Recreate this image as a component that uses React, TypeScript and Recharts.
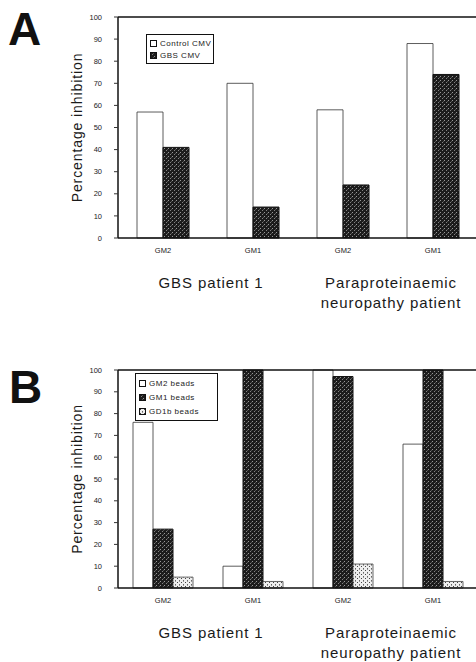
import {
  Bar,
  BarChart,
  Legend,
  ReferenceLine,
  XAxis,
  YAxis,
} from 'recharts';

// Ganglioside antigen on each plate, two per patient
const CATEGORIES = ['GM2', 'GM1', 'GM2', 'GM1'];
const PATIENTS = [
  'GBS patient 1',
  'GBS patient 1',
  'Paraproteinaemic neuropathy patient',
  'Paraproteinaemic neuropathy patient',
];
const Y_TICKS = [0, 10, 20, 30, 40, 50, 60, 70, 80, 90, 100];

// Panel A: CMV inhibition
const CONTROL_CMV = [57, 70, 58, 88];
const GBS_CMV = [41, 14, 24, 74];

// Panel B: bead inhibition
const GM2_BEADS = [76, 10, 100, 66];
const GM1_BEADS = [27, 100, 97, 100];
const GD1B_BEADS = [5, 3, 11, 3];

const dataA = CATEGORIES.map((c, i) => ({
  antigen: c,
  patient: PATIENTS[i],
  control: CONTROL_CMV[i],
  gbs: GBS_CMV[i],
}));

const dataB = CATEGORIES.map((c, i) => ({
  antigen: c,
  patient: PATIENTS[i],
  gm2: GM2_BEADS[i],
  gm1: GM1_BEADS[i],
  gd1b: GD1B_BEADS[i],
}));

const FONT = '"Liberation Sans", Arial, Helvetica, sans-serif';

const SWATCH: Record<string, string> = {
  white: '#ffffff',
  dark: 'url(#darkGrain)',
  light: 'url(#lightGrain)',
};

function Patterns() {
  return (
    <defs>
      <pattern id="darkGrain" width="4" height="4" patternUnits="userSpaceOnUse">
        <rect width="4" height="4" fill="#1c1c1c" />
        <rect x="0" y="0" width="1" height="1" fill="#fff" opacity="0.55" />
        <rect x="2" y="2" width="1" height="1" fill="#fff" opacity="0.45" />
        <rect x="3" y="1" width="1" height="1" fill="#888" opacity="0.5" />
      </pattern>
      <pattern id="lightGrain" width="4" height="4" patternUnits="userSpaceOnUse">
        <rect width="4" height="4" fill="#efefef" />
        <rect x="1" y="1" width="1" height="1" fill="#444" />
        <rect x="3" y="3" width="1" height="1" fill="#666" />
        <rect x="3" y="0" width="1" height="1" fill="#999" />
      </pattern>
    </defs>
  );
}

// Group label under each pair of antigens, centred between the two bands
function PatientTick(props: any) {
  const { x, y, payload } = props;
  if (payload.index % 2 !== 0) return null;
  const text: string = payload.value;
  const lines =
    text.length > 16
      ? [text.slice(0, text.indexOf(' ')), text.slice(text.indexOf(' ') + 1)]
      : [text];
  const cx = x + payload.offset + 3;
  return (
    <text
      x={cx}
      y={y + 22}
      textAnchor="middle"
      fontFamily={FONT}
      fontSize={15}
      letterSpacing={0.9}
      fill="#1a1a1a"
    >
      {lines.map((l, i) => (
        <tspan key={l} x={cx} dy={i === 0 ? 0 : 20}>
          {l}
        </tspan>
      ))}
    </text>
  );
}

function BoxLegend({ items, width, rowGap }: { items: { label: string; kind: string }[]; width: number; rowGap: number }) {
  return (
    <div
      style={{
        width,
        border: '1px solid #111',
        background: '#fff',
        padding: '2px 0 2px 3px',
        boxSizing: 'border-box',
        fontFamily: FONT,
        fontSize: 8,
        letterSpacing: 0.5,
        color: '#222',
        whiteSpace: 'nowrap',
        overflow: 'hidden',
      }}
    >
      {items.map((it) => (
        <div key={it.label} style={{ display: 'flex', alignItems: 'center', height: rowGap }}>
          <svg width={7} height={7} style={{ marginRight: 3, flexShrink: 0 }}>
            <Patterns />
            <rect x={0.5} y={0.5} width={6} height={6} fill={SWATCH[it.kind]} stroke="#111" />
          </svg>
          <span>{it.label}</span>
        </div>
      ))}
    </div>
  );
}

const yAxisProps = {
  domain: [0, 100] as [number, number],
  ticks: Y_TICKS,
  interval: 0 as const,
  width: 118,
  tickSize: 4,
  tickMargin: 12,
  axisLine: { stroke: '#111', strokeWidth: 1.5 },
  tickLine: { stroke: '#333' },
  tick: { fontSize: 7.5, fill: '#222', fontFamily: FONT },
};

const yLabel = {
  value: 'Percentage inhibition',
  angle: -90,
  position: 'insideLeft' as const,
  offset: 77,
  style: { textAnchor: 'middle', fontSize: 14, fontFamily: FONT, fill: '#1a1a1a', letterSpacing: 0.9 },
};

const antigenAxisProps = {
  dataKey: 'antigen',
  height: 20,
  tickLine: false,
  tickMargin: 4,
  interval: 0 as const,
  axisLine: { stroke: '#111', strokeWidth: 1.5 },
  tick: { fontSize: 7.5, fill: '#222', fontFamily: FONT },
};

function PanelLetter({ letter, top, left }: { letter: string; top: number; left: number }) {
  return (
    <div
      style={{
        position: 'absolute',
        top,
        left,
        fontFamily: FONT,
        fontWeight: 700,
        fontSize: 46,
        lineHeight: '46px',
        color: '#111',
      }}
    >
      {letter}
    </div>
  );
}

export default function App() {
  return (
    <div
      style={{
        position: 'absolute',
        left: 0,
        top: 0,
        width: 476,
        height: 662,
        overflow: 'hidden',
        background: '#fff',
      }}
    >
      <PanelLetter letter="A" top={6} left={8} />
      <PanelLetter letter="B" top={364} left={9} />

      <div style={{ position: 'absolute', left: 0, top: 0 }}>
        <BarChart
          width={500}
          height={320}
          data={dataA}
          margin={{ top: 17, right: 22, bottom: 0, left: 0 }}
          barGap={0}
          barCategoryGap={0}
        >
          <Patterns />
          <YAxis {...yAxisProps} label={yLabel} />
          <XAxis {...antigenAxisProps} />
          <XAxis
            xAxisId="patient"
            dataKey="patient"
            height={62}
            axisLine={false}
            tickLine={false}
            interval={0}
            tick={<PatientTick />}
          />
          <ReferenceLine y={100} stroke="#111" strokeWidth={1.5} />
          <Bar dataKey="control" name="Control CMV" barSize={26} fill="#fff" stroke="#333" strokeWidth={0.8} isAnimationActive={false} />
          <Bar dataKey="gbs" name="GBS CMV" barSize={26} fill="url(#darkGrain)" stroke="#111" strokeWidth={1} isAnimationActive={false} />
          <Legend
            layout="vertical"
            align="center"
            verticalAlign="middle"
            wrapperStyle={{ top: 34, left: 146, width: 68 }}
            content={() => (
              <BoxLegend
                width={68}
                rowGap={12}
                items={[
                  { label: 'Control CMV', kind: 'white' },
                  { label: 'GBS CMV', kind: 'dark' },
                ]}
              />
            )}
          />
        </BarChart>
      </div>

      <div style={{ position: 'absolute', left: 0, top: 353 }}>
        <BarChart
          width={500}
          height={317}
          data={dataB}
          margin={{ top: 17, right: 22, bottom: 0, left: 0 }}
          barGap={0}
          barCategoryGap={0}
        >
          <Patterns />
          <YAxis {...yAxisProps} label={yLabel} />
          <XAxis {...antigenAxisProps} />
          <XAxis
            xAxisId="patient"
            dataKey="patient"
            height={62}
            axisLine={false}
            tickLine={false}
            interval={0}
            tick={<PatientTick />}
          />
          <ReferenceLine y={100} stroke="#111" strokeWidth={1.5} />
          <Bar dataKey="gm2" name="GM2 beads" barSize={20} fill="#fff" stroke="#333" strokeWidth={0.8} isAnimationActive={false} />
          <Bar dataKey="gm1" name="GM1 beads" barSize={20} fill="url(#darkGrain)" stroke="#111" strokeWidth={1} isAnimationActive={false} />
          <Bar dataKey="gd1b" name="GD1b beads" barSize={20} fill="url(#lightGrain)" stroke="#444" strokeWidth={0.8} isAnimationActive={false} />
          <Legend
            layout="vertical"
            align="center"
            verticalAlign="middle"
            wrapperStyle={{ top: 20, left: 135, width: 83 }}
            content={() => (
              <BoxLegend
                width={83}
                rowGap={14}
                items={[
                  { label: 'GM2 beads', kind: 'white' },
                  { label: 'GM1 beads', kind: 'dark' },
                  { label: 'GD1b beads', kind: 'light' },
                ]}
              />
            )}
          />
        </BarChart>
      </div>
    </div>
  );
}
